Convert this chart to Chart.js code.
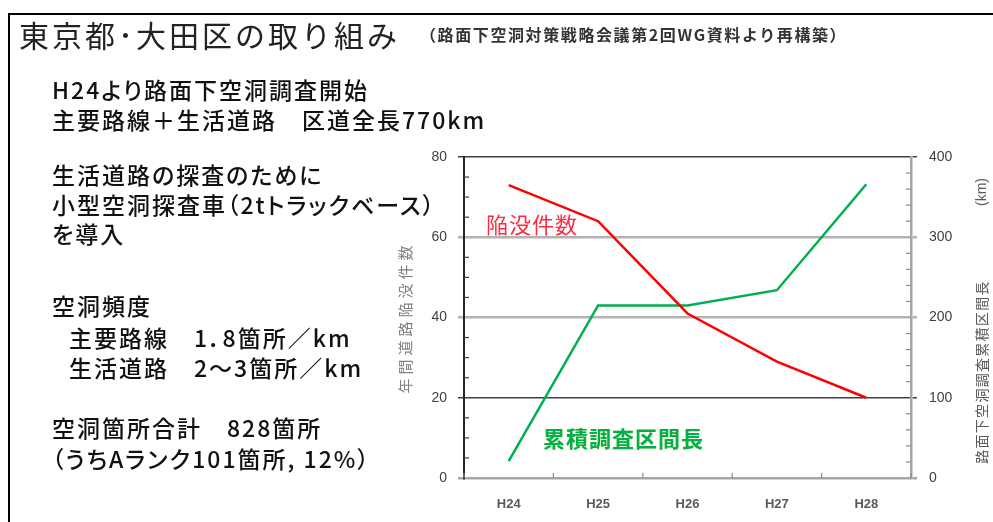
<!DOCTYPE html>
<html lang="ja">
<head>
<meta charset="utf-8">
<title>東京都・大田区の取り組み</title>
<script src="https://cdn.jsdelivr.net/npm/chart.js@4.4.1/dist/chart.umd.min.js"></script>
<style>
    html, body {
        margin: 0;
        padding: 0;
        background: #fff;
    }
    #page {
        position: relative;
        width: 993px;
        height: 522px;
        overflow: hidden;
        font-family: "Noto Sans CJK JP", "Noto Sans", sans-serif;
        color: #111;
    }
    #chart {
        position: absolute;
        left: 0;
        top: 0;
    }
    .frame {
        position: absolute;
        left: 8px;
        top: 13px;
        width: 1100px;
        height: 700px;
        border: 2px solid #000;
    }
    .txt {
        position: absolute;
        white-space: nowrap;
        line-height: 30px;
    }
    .body {
        font-size: 23px;
        letter-spacing: 2px;
        font-weight: 500;
        font-feature-settings: "palt";
    }
</style>
</head>
<body>
<div id="page">
    <canvas id="chart" width="993" height="522"></canvas>
    <div class="frame"></div>

    <div class="txt" style="left:19px; top:16px; font-size:30px; line-height:36px; letter-spacing:3px; color:#222;">東京都･大田区の取り組み</div>
    <div class="txt" style="left:420px; top:19px; font-size:16px; font-weight:bold; letter-spacing:1.6px; color:#333;">（路面下空洞対策戦略会議第2回WG資料より再構築）</div>

    <div class="txt body" style="left:52px; top:74px;">H24より路面下空洞調査開始</div>
    <div class="txt body" style="left:52px; top:104px;">主要路線＋生活道路　区道全長770km</div>

    <div class="txt body" style="left:52px; top:159px;">生活道路の探査のために</div>
    <div class="txt body" style="left:52px; top:189px;">小型空洞探査車（2tトラックベース）</div>
    <div class="txt body" style="left:52px; top:218px;">を導入</div>

    <div class="txt body" style="left:52px; top:290px;">空洞頻度</div>
    <div class="txt body" style="left:69px; top:322px;">主要路線　1．8箇所／km</div>
    <div class="txt body" style="left:69px; top:352px;">生活道路　2～3箇所／km</div>

    <div class="txt body" style="left:52px; top:412px;">空洞箇所合計　828箇所</div>
    <div class="txt body" style="left:52px; top:443px;">（うちAランク101箇所, 12%）</div>

    <div class="txt" style="left:486px; top:208px; font-size:22px; letter-spacing:1px; color:#ff2a40;">陥没件数</div>
    <div class="txt" style="left:543px; top:422px; font-size:22px; letter-spacing:1px; font-weight:bold; color:#00b050; text-shadow:0 0 1px #e8f060;">累積調査区間長</div>
</div>

<script>
// --- data ---
const years = ['H24', 'H25', 'H26', 'H27', 'H28'];
const collapseCounts = [73, 64, 41, 29, 20];       // 年間道路陥没件数 (left axis)
const surveyedKm = [21, 215, 215, 234, 366];       // 累積区間長 km (right axis)

const leftTicks = [0, 20, 40, 60, 80];
const rightTicks = [0, 100, 200, 300, 400];

const leftTitle = '年間道路陥没件数';
const rightTitle = '路面下空洞調査累積区間長';
const rightUnit = '(km)';

// grid line look for each left tick value
function gridColor(v) {
    if (v === 20 || v === 80) return '#404040';
    if (v === 0) return '#a6a6a6';
    return '#b3b3b3';
}
function gridWidth(v) {
    if (v === 20 || v === 80) return 1.5;
    return 2.5;
}

// minor ticks pointing into the plot + rotated axis titles
const axisExtras = {
    id: 'axisExtras',
    afterDraw(chart) {
        const ctx = chart.ctx;
        const x = chart.scales.x;
        const yL = chart.scales.y;
        const yR = chart.scales.y1;

        ctx.save();
        ctx.lineWidth = 1.2;

        ctx.strokeStyle = '#404040';
        for (let v = yL.min; v <= yL.max; v += 5) {
            if (v % 20 === 0) continue;
            const py = yL.getPixelForValue(v);
            ctx.beginPath();
            ctx.moveTo(yL.right, py);
            ctx.lineTo(yL.right + 5, py);
            ctx.stroke();
        }

        ctx.strokeStyle = '#8c8c8c';
        for (let v = yR.min; v <= yR.max; v += 20) {
            if (v % 100 === 0) continue;
            const py = yR.getPixelForValue(v);
            ctx.beginPath();
            ctx.moveTo(yR.left - 5, py);
            ctx.lineTo(yR.left, py);
            ctx.stroke();
        }

        for (let i = 0; i <= years.length; i++) {
            const px = x.getPixelForValue(i - 0.5);
            ctx.beginPath();
            ctx.moveTo(px, x.top);
            ctx.lineTo(px, x.top - 5);
            ctx.stroke();
        }

        // left title, reads bottom to top
        ctx.fillStyle = '#808080';
        ctx.font = '15px "Noto Sans CJK JP"';
        ctx.letterSpacing = '4px';
        ctx.textAlign = 'center';
        ctx.textBaseline = 'middle';
        ctx.translate(405, (yL.top + yL.bottom) / 2);
        ctx.rotate(-Math.PI / 2);
        ctx.fillText(leftTitle, 0, 0);
        ctx.setTransform(1, 0, 0, 1, 0, 0);

        // right title, also bottom to top
        ctx.fillStyle = '#595959';
        ctx.font = '14px "Noto Sans CJK JP"';
        ctx.letterSpacing = '1.3px';
        ctx.translate(982, 372);
        ctx.rotate(-Math.PI / 2);
        ctx.fillText(rightTitle, 0, 0);
        ctx.setTransform(1, 0, 0, 1, 0, 0);

        ctx.letterSpacing = '0px';
        ctx.font = '14px "Liberation Sans"';
        ctx.translate(982, 192);
        ctx.rotate(-Math.PI / 2);
        ctx.fillText(rightUnit, 0, 0);
        ctx.restore();
    }
};

new Chart(document.getElementById('chart').getContext('2d'), {
    type: 'line',
    data: {
        labels: years,
        datasets: [
            {
                label: '陥没件数',
                data: collapseCounts,
                yAxisID: 'y',
                borderColor: '#ff0000',
                borderWidth: 2.5,
                pointRadius: 0,
                tension: 0
            },
            {
                label: '累積調査区間長',
                data: surveyedKm,
                yAxisID: 'y1',
                borderColor: '#00b050',
                borderWidth: 2.5,
                pointRadius: 0,
                tension: 0
            }
        ]
    },
    options: {
        responsive: false,
        animation: false,
        devicePixelRatio: 1,
        layout: { padding: { left: 380, top: 157, right: 0, bottom: 0 } },
        plugins: {
            legend: { display: false },
            tooltip: { enabled: false }
        },
        scales: {
            x: {
                offset: true,
                grid: { display: false, drawTicks: false },
                border: { display: true, color: '#a6a6a6', width: 2 },
                ticks: {
                    color: '#595959',
                    padding: 19,
                    font: { family: 'Liberation Sans', size: 13, weight: 'bold' }
                },
                afterFit(s) { s.height = 44; }
            },
            y: {
                position: 'left',
                min: leftTicks[0],
                max: leftTicks[leftTicks.length - 1],
                afterBuildTicks(s) { s.ticks = leftTicks.map(v => ({ value: v })); },
                grid: {
                    color: c => gridColor(c.tick.value),
                    lineWidth: c => gridWidth(c.tick.value),
                    tickLength: 6
                },
                border: { color: '#262626', width: 2 },
                ticks: {
                    color: '#404040',
                    padding: 11,
                    font: { family: 'Liberation Sans', size: 14 }
                },
                afterFit(s) { s.width = 84; }
            },
            y1: {
                position: 'right',
                min: rightTicks[0],
                max: rightTicks[rightTicks.length - 1],
                afterBuildTicks(s) { s.ticks = rightTicks.map(v => ({ value: v })); },
                grid: {
                    drawOnChartArea: false,
                    color: c => gridColor(c.tick.value / 5),
                    lineWidth: c => gridWidth(c.tick.value / 5),
                    tickLength: 6
                },
                border: { color: '#a6a6a6', width: 2.5 },
                ticks: {
                    color: '#404040',
                    padding: 12,
                    font: { family: 'Liberation Sans', size: 14 }
                },
                afterFit(s) { s.width = 82; }
            }
        }
    },
    plugins: [axisExtras]
});
</script>
</body>
</html>
